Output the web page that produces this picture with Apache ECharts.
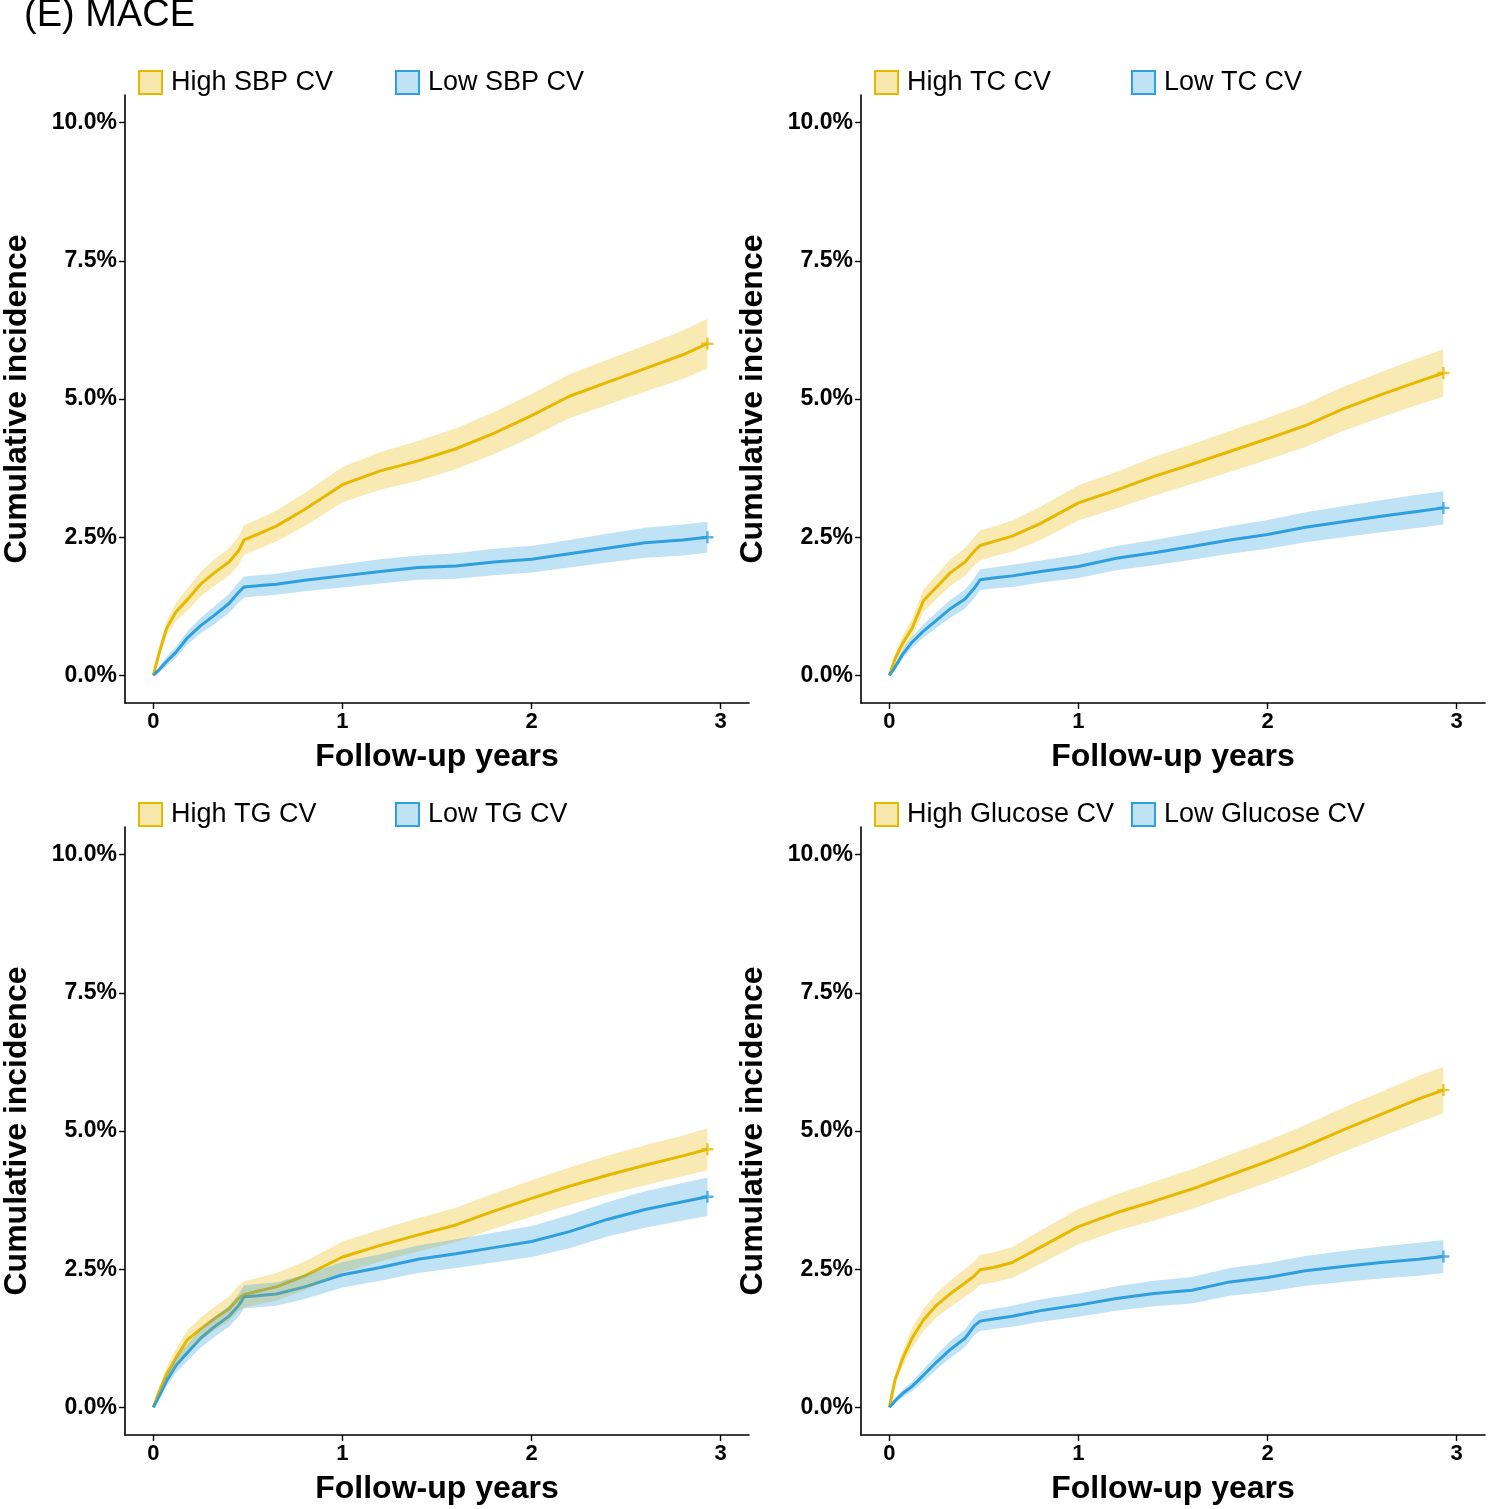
<!DOCTYPE html>
<html>
<head>
<meta charset="utf-8">
<script src="https://cdn.jsdelivr.net/npm/echarts@6/dist/echarts.min.js"></script>
<style>
html,body{margin:0;padding:0;background:#fff;}
#chart{width:1489px;height:1509px;}
</style>
</head>
<body>
<div id="chart"></div>
<script>
// Follow-up time grid (years)
const years = [0, 0.03, 0.07, 0.12, 0.18, 0.25, 0.32, 0.40, 0.45, 0.48, 0.55, 0.65, 0.8, 1.0, 1.2, 1.4, 1.6, 1.8, 2.0, 2.2, 2.4, 2.6, 2.8, 2.93];

// Cumulative incidence (%) - SBP
const highSBP = [0, 0.4, 0.85, 1.15, 1.37, 1.65, 1.85, 2.05, 2.25, 2.45, 2.55, 2.7, 3.0, 3.45, 3.7, 3.88, 4.1, 4.38, 4.7, 5.05, 5.3, 5.55, 5.8, 6.0];
const lowSBP  = [0, 0.1, 0.25, 0.42, 0.68, 0.9, 1.08, 1.3, 1.5, 1.6, 1.62, 1.65, 1.72, 1.8, 1.88, 1.95, 1.98, 2.05, 2.1, 2.2, 2.3, 2.4, 2.45, 2.5];
// 95% CI half-widths (%)
const ciHighSBP = [0, 0.08, 0.13, 0.17, 0.2, 0.22, 0.24, 0.25, 0.26, 0.27, 0.27, 0.28, 0.3, 0.32, 0.34, 0.36, 0.37, 0.38, 0.39, 0.4, 0.41, 0.42, 0.44, 0.45];
const ciLowSBP  = [0, 0.05, 0.08, 0.1, 0.12, 0.14, 0.16, 0.17, 0.18, 0.19, 0.19, 0.19, 0.2, 0.21, 0.22, 0.22, 0.23, 0.24, 0.24, 0.25, 0.26, 0.27, 0.28, 0.28];

// TC
const highTC = [0, 0.3, 0.58, 0.85, 1.35, 1.6, 1.85, 2.05, 2.25, 2.35, 2.42, 2.52, 2.75, 3.12, 3.35, 3.6, 3.82, 4.05, 4.28, 4.52, 4.82, 5.08, 5.32, 5.47];
const lowTC  = [0, 0.15, 0.38, 0.6, 0.8, 1.0, 1.2, 1.38, 1.58, 1.73, 1.76, 1.8, 1.88, 1.97, 2.12, 2.22, 2.33, 2.45, 2.55, 2.68, 2.78, 2.88, 2.97, 3.03];
const ciHighTC = [0, 0.08, 0.13, 0.17, 0.2, 0.22, 0.24, 0.25, 0.26, 0.27, 0.27, 0.28, 0.3, 0.32, 0.33, 0.35, 0.36, 0.37, 0.38, 0.39, 0.4, 0.41, 0.42, 0.43];
const ciLowTC  = [0, 0.05, 0.08, 0.1, 0.12, 0.14, 0.16, 0.17, 0.18, 0.19, 0.19, 0.2, 0.2, 0.21, 0.22, 0.23, 0.24, 0.25, 0.26, 0.27, 0.28, 0.29, 0.3, 0.3];

// TG
const highTG = [0, 0.28, 0.6, 0.9, 1.22, 1.42, 1.6, 1.78, 1.97, 2.04, 2.1, 2.18, 2.38, 2.72, 2.93, 3.12, 3.3, 3.55, 3.78, 4.0, 4.2, 4.38, 4.55, 4.67];
const lowTG  = [0, 0.2, 0.48, 0.76, 0.99, 1.25, 1.45, 1.65, 1.84, 2.0, 2.02, 2.05, 2.18, 2.4, 2.53, 2.68, 2.78, 2.89, 3.0, 3.18, 3.4, 3.58, 3.72, 3.81];
const ciHighTG = [0, 0.07, 0.12, 0.15, 0.18, 0.2, 0.21, 0.22, 0.23, 0.24, 0.24, 0.25, 0.26, 0.28, 0.29, 0.3, 0.31, 0.32, 0.33, 0.34, 0.35, 0.36, 0.37, 0.38];
const ciLowTG  = [0, 0.06, 0.1, 0.13, 0.15, 0.17, 0.18, 0.19, 0.2, 0.21, 0.21, 0.21, 0.22, 0.23, 0.24, 0.25, 0.26, 0.27, 0.28, 0.3, 0.31, 0.33, 0.34, 0.35];

// Glucose
const highGlu = [0, 0.5, 0.88, 1.25, 1.58, 1.85, 2.05, 2.25, 2.38, 2.49, 2.53, 2.62, 2.9, 3.27, 3.52, 3.73, 3.95, 4.2, 4.45, 4.72, 5.02, 5.3, 5.58, 5.74];
const lowGlu  = [0, 0.12, 0.25, 0.38, 0.58, 0.82, 1.04, 1.25, 1.48, 1.56, 1.6, 1.65, 1.75, 1.85, 1.97, 2.06, 2.12, 2.27, 2.35, 2.47, 2.55, 2.62, 2.68, 2.73];
const ciHighGlu = [0, 0.09, 0.14, 0.18, 0.2, 0.22, 0.24, 0.25, 0.26, 0.27, 0.27, 0.28, 0.3, 0.32, 0.33, 0.35, 0.36, 0.37, 0.38, 0.39, 0.4, 0.41, 0.42, 0.42];
const ciLowGlu  = [0, 0.05, 0.07, 0.09, 0.11, 0.13, 0.15, 0.16, 0.17, 0.18, 0.18, 0.19, 0.2, 0.21, 0.22, 0.23, 0.24, 0.25, 0.26, 0.27, 0.28, 0.29, 0.3, 0.3];

// Axis ticks
const xTicks = [0, 1, 2, 3];
const yTicks = [0, 2.5, 5, 7.5, 10];

const panelDefs = [
  {hiName:'High SBP CV', loName:'Low SBP CV', hi:highSBP, lo:lowSBP, hiCI:ciHighSBP, loCI:ciLowSBP},
  {hiName:'High TC CV', loName:'Low TC CV', hi:highTC, lo:lowTC, hiCI:ciHighTC, loCI:ciLowTC},
  {hiName:'High TG CV', loName:'Low TG CV', hi:highTG, lo:lowTG, hiCI:ciHighTG, loCI:ciLowTG},
  {hiName:'High Glucose CV', loName:'Low Glucose CV', hi:highGlu, lo:lowGlu, hiCI:ciHighGlu, loCI:ciLowGlu}
];
const layout = [
  {left:125, top:95}, {left:861, top:95}, {left:125, top:827}, {left:861, top:827}
];

const ORANGE = '#E7B800', BLUE = '#2E9FDF';
const FONT = 'Liberation Sans, Arial, Helvetica, sans-serif';
const plusPath = 'path://M4,0H6V4H10V6H6V10H4V6H0V4H4Z';

const grids = [], xAxes = [], yAxes = [], series = [], legends = [];

panelDefs.forEach((p, i) => {
  const L = layout[i];
  grids.push({left:L.left, top:L.top, width:624, height:608, containLabel:false});
  xAxes.push({
    type:'value', gridIndex:i, min:-0.15, max:3.15,
    name:'Follow-up years', nameLocation:'middle', nameGap:38,
    nameTextStyle:{fontFamily:FONT, fontWeight:'bold', fontSize:32, color:'#000'},
    axisLine:{onZero:false, lineStyle:{color:'#000', width:1.6}},
    axisTick:{show:true, length:6, lineStyle:{color:'#000', width:1.4}, customValues:xTicks},
    axisLabel:{customValues:xTicks, fontFamily:FONT, fontWeight:'bold', fontSize:22, color:'#000', margin:8},
    splitLine:{show:false}
  });
  yAxes.push({
    type:'value', gridIndex:i, min:-0.5, max:10.5,
    name:'Cumulative incidence', nameLocation:'middle', nameGap:92, nameRotate:90,
    nameTextStyle:{fontFamily:FONT, fontWeight:'bold', fontSize:32, color:'#000'},
    axisLine:{onZero:false, lineStyle:{color:'#000', width:1.6}},
    axisTick:{show:true, length:6, lineStyle:{color:'#000', width:1.4}, customValues:yTicks},
    axisLabel:{customValues:yTicks, fontFamily:FONT, fontWeight:'bold', fontSize:23, color:'#000', margin:8,
      formatter: v => v.toFixed(1) + '%'},
    splitLine:{show:false}
  });

  const groups = [
    {name:p.hiName, est:p.hi, ci:p.hiCI, color:ORANGE, key:'h'},
    {name:p.loName, est:p.lo, ci:p.loCI, color:BLUE, key:'l'}
  ];
  // lines
  groups.forEach(g => {
    series.push({
      type:'line', name:g.name, xAxisIndex:i, yAxisIndex:i,
      data: years.map((t, k) => [t, g.est[k]]),
      showSymbol:false, symbol:'none', smooth:false,
      lineStyle:{color:g.color, width:3}, itemStyle:{color:g.color},
      z:2, silent:true
    });
  });
  // CI bands (drawn over the lines, translucent)
  groups.forEach(g => {
    const lo = g.est.map((v, k) => v - g.ci[k]);
    const hi = g.est.map((v, k) => v + g.ci[k]);
    series.push({
      type:'custom', name:'_band' + i + g.key, xAxisIndex:i, yAxisIndex:i,
      data: years.map((t, k) => [t, lo[k], hi[k]]),
      encode:{x:0, y:[1, 2]},
      renderItem: (params, api) => {
        if (params.dataIndex !== 0) return null;
        const upper = years.map((t, k) => api.coord([t, hi[k]]));
        const lower = years.map((t, k) => api.coord([t, lo[k]])).reverse();
        return {
          type:'polygon',
          shape:{points: upper.concat(lower)},
          style:{fill:g.color, opacity:0.3}
        };
      },
      z:3, silent:true
    });
  });
  // censor marks at end
  groups.forEach(g => {
    const n = years.length - 1;
    series.push({
      type:'scatter', name:'_cens' + i + g.key, xAxisIndex:i, yAxisIndex:i,
      data:[[years[n], g.est[n]]], symbol:plusPath, symbolSize:12,
      itemStyle:{color:g.color}, z:4, silent:true
    });
  });

  const legTop = L.top - 26;
  [[p.hiName, ORANGE, '#F8E8AE', L.left + 13], [p.loName, BLUE, '#BFE2F5', L.left + 270]].forEach(([nm, col, fill, lx]) => {
    legends.push({
      left:lx, top:legTop, padding:0, orient:'horizontal', itemWidth:23, itemHeight:23, selectedMode:false,
      textStyle:{fontFamily:FONT, fontSize:27, color:'#000', padding:[0,0,0,4]},
      data:[{name:nm, icon:'rect', itemStyle:{color:fill, opacity:1, borderColor:col, borderWidth:2}}]
    });
  });
});

const chart = echarts.init(document.getElementById('chart'), null, {renderer:'canvas'});
chart.setOption({
  backgroundColor:'#fff',
  animation:false,
  title:{text:'(E) MACE', left:24, top:-3, padding:0, textStyle:{fontFamily:FONT, fontWeight:'normal', fontSize:38, color:'#000'}},
  grid:grids, xAxis:xAxes, yAxis:yAxes, legend:legends, series:series
});
</script>
</body>
</html>
